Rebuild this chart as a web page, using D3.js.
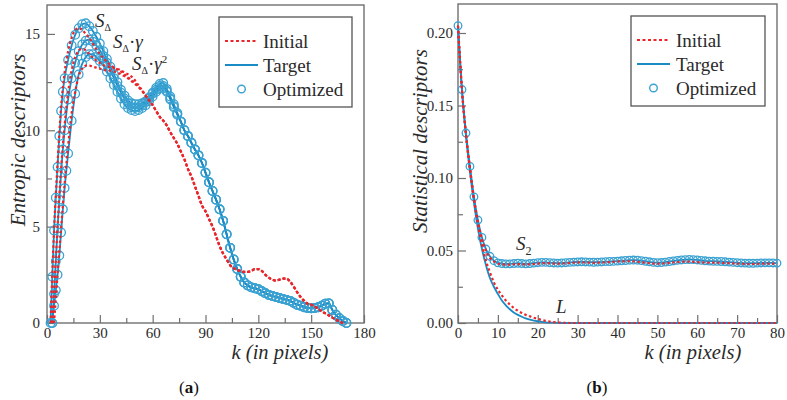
<!DOCTYPE html>
<html><head><meta charset="utf-8">
<script src="https://cdn.jsdelivr.net/npm/d3@7"></script>
<style>body{margin:0;background:#fff} svg text{font-family:"Liberation Serif","Tinos","Times New Roman",serif}</style>
</head><body><svg id="c" width="787" height="400"></svg>
<script>
// ---------- Panel (a): entropic descriptors ----------
const kHeadDelta = [2,3,4,5,6,7,8,9,10,12,14,16,18,20,22,24,26,28,30,32,34,36,38,40,42,44,46,48,50,52,54,56,58,60,62,64,66,68,70,72,74];
const targetDelta = [0,2.4,4.8,6.5,8.1,9.7,11.0,12.0,12.7,13.65,14.4,14.95,15.3,15.5,15.55,15.4,15.15,14.85,14.5,14.1,13.7,13.3,12.9,12.5,12.1,11.8,11.55,11.4,11.35,11.35,11.4,11.5,11.7,11.95,12.2,12.4,12.45,12.15,11.75,11.35,10.9];
const kHeadGamma = [3,4,5,6,7,8,9,10,12,14,16,18,20,22,24,26,28,30,32,34,36,38,40,42,44,46,48,50,52,54,56,58,60,62,64,66,68,70,72,74];
const targetGamma = [0,1.5,3.2,4.9,6.4,7.8,9.0,10.0,11.6,12.7,13.5,14.1,14.45,14.65,14.7,14.6,14.4,14.15,13.85,13.5,13.1,12.7,12.3,11.95,11.65,11.4,11.2,11.15,11.2,11.3,11.45,11.65,11.9,12.1,12.3,12.3,12.05,11.65,11.25,10.85];
const kHeadGamma2 = [3,4,5,6,7,8,9,10,11,12,14,16,18,20,22,24,26,28,30,32,34,36,38,40,42,44,46,48,50,52,54,56,58,60,62,64,66,68,70,72,74];
const targetGamma2 = [0,0.9,1.7,2.5,3.5,4.7,5.9,7.0,7.9,8.8,10.5,11.9,12.9,13.45,13.8,13.95,13.95,13.8,13.6,13.35,13.05,12.7,12.35,12.0,11.65,11.35,11.15,11.05,11.0,11.05,11.15,11.3,11.5,11.75,12.0,12.15,12.2,12.0,11.6,11.2,10.8];
const kTail = [76,78,80,82,84,86,88,90,92,94,96,98,100,102,104,106,108,110,112,114,116,118,120,122,124,126,128,130,132,134,136,138,140,142,144,146,148,150,152,154,156,158,160,162,164,166,168,170];
const targetTail = [10.45,10.0,9.7,9.35,9.0,8.7,8.3,7.8,7.3,6.85,6.4,5.9,5.3,4.6,3.9,3.3,2.8,2.4,2.1,1.95,1.85,1.8,1.75,1.65,1.55,1.45,1.4,1.35,1.3,1.25,1.2,1.15,1.05,0.95,0.9,0.82,0.78,0.76,0.78,0.82,0.9,1.0,1.02,0.68,0.43,0.25,0.1,0.0];

const kInitDelta = [2,4,6,8,10,12,14,16,18,20,22,24,26,28,30,32,34,36,38,40,42,44,46,48,50,52,54];
const initDelta = [0,4.8,8.3,11.2,13.0,14.1,14.8,15.2,15.3,15.2,15.0,14.8,14.5,14.2,13.95,13.75,13.55,13.4,13.25,13.15,13.05,12.9,12.75,12.6,12.45,12.25,12.05];
const kInitGamma = [3,5,7,9,11,13,15,17,19,21,23,25,27,29,31,33,35,37,39,41,43,45,47,49,51,53];
const initGamma = [0,3.3,6.6,9.2,11.2,12.6,13.5,14.0,14.2,14.2,14.05,13.85,13.7,13.55,13.45,13.35,13.3,13.25,13.2,13.15,13.05,12.95,12.85,12.7,12.45,12.2];
const kInitGamma2 = [4,6,8,10,12,14,16,18,20,22,24,26,28,30,32,34,36,38,40,42,44,46,48,50,52,54];
const initGamma2 = [0,2.5,4.9,7.2,9.2,10.9,12.0,12.8,13.2,13.35,13.35,13.3,13.25,13.2,13.15,13.1,13.1,13.05,13.0,12.9,12.8,12.7,12.55,12.4,12.25,12.05];
const kInitTail = [56,58,60,62,64,66,68,70,72,74,76,78,80,82,84,86,88,90,92,94,96,98,100,102,104,106,108,110,112,114,116,118,120,122,124,126,128,130,132,134,136,138,140,142,144,146,148,150,152,154,156,158,160,162,164,166,168];
const initTail = [11.8,11.55,11.3,11.0,10.7,10.5,10.25,9.9,9.6,9.3,8.9,8.5,8.0,7.6,7.1,6.6,6.1,5.8,5.4,5.0,4.5,4.0,3.6,3.3,3.0,2.85,2.75,2.7,2.65,2.65,2.7,2.8,2.8,2.7,2.5,2.35,2.25,2.2,2.25,2.3,2.3,2.15,1.9,1.6,1.35,1.15,1.0,0.95,0.85,0.75,0.6,0.5,0.4,0.28,0.18,0.08,0.0];

const xTicksA = [0,30,60,90,120,150,180];
const yTicksA = [0,5,10,15];

// ---------- Panel (b): statistical descriptors ----------
const kB = [0,1,2,3,4,5,6,7,8,9,10,11,12,13,14,15,16,17,18,19,20,21,22,23,24,25,26,27,28,29,30,31,32,33,34,35,36,37,38,39,40,41,42,43,44,45,46,47,48,49,50,51,52,53,54,55,56,57,58,59,60,61,62,63,64,65,66,67,68,69,70,71,72,73,74,75,76,77,78,79,80];
const targetS2 = [0.205,0.161,0.131,0.108,0.087,0.071,0.059,0.051,0.046,0.043,
 0.0415,0.041,0.0408,0.0408,0.041,0.0412,0.041,0.0408,0.041,0.0413,
 0.0416,0.0418,0.0418,0.0416,0.0414,0.0413,0.0414,0.0416,0.0418,0.042,
 0.0421,0.0422,0.0421,0.042,0.0419,0.042,0.0421,0.0423,0.0424,0.0425,
 0.0427,0.0429,0.0431,0.0433,0.0434,0.0433,0.043,0.0426,0.0422,0.0418,
 0.0416,0.0417,0.042,0.0424,0.0428,0.0432,0.0435,0.0437,0.0438,0.0437,
 0.0435,0.0432,0.0429,0.0427,0.0426,0.0425,0.0424,0.0422,0.042,0.0418,
 0.0416,0.0414,0.0413,0.0412,0.0412,0.0413,0.0414,0.0415,0.0415,0.0414,0.0413];
const initS2 = [0.205,0.160,0.130,0.107,0.086,0.070,0.058,0.050,0.045,0.0425,
 0.041,0.0405,0.0403,0.0403,0.0405,0.0406,0.0405,0.0404,0.0405,0.0407,
 0.041,0.0412,0.0413,0.0412,0.041,0.0409,0.041,0.0412,0.0414,0.0416,
 0.0417,0.0418,0.0417,0.0416,0.0415,0.0416,0.0417,0.0418,0.042,0.0422,
 0.0424,0.0425,0.0426,0.0426,0.0425,0.0422,0.0419,0.0416,0.0413,0.041,
 0.0409,0.041,0.0412,0.0415,0.0418,0.042,0.0422,0.0423,0.0423,0.0422,
 0.042,0.0418,0.0417,0.0416,0.0416,0.0416,0.0415,0.0414,0.0413,0.0411,
 0.041,0.0409,0.0408,0.0407,0.0407,0.0408,0.0409,0.041,0.041,0.0409,0.0408];
const kL = [0,1,2,3,4,5,6,7,8,9,10,11,12,13,14,15,16,17,18,19,20,21,22,23,24,25,26,27,28,30,40,50,60,70,80];
const targetL = [0.205,0.160,0.129,0.104,0.083,0.065,0.051,0.040,0.031,0.025,0.020,0.0155,0.0122,0.0095,0.0073,0.0056,0.0043,0.0032,0.0024,0.0017,0.0012,0.0008,0.0005,0.0003,0.0002,0.0001,0,0,0,0,0,0,0,0,0];
const initL = [0.205,0.161,0.130,0.106,0.085,0.068,0.054,0.043,0.035,0.028,0.023,0.019,0.0155,0.0127,0.0103,0.0085,0.0069,0.0056,0.0046,0.0036,0.0028,0.0021,0.0015,0.001,0.0006,0.0004,0.0002,0.0001,0,0,0,0,0,0,0];

const xTicksB = [0,10,20,30,40,50,60,70,80];
const yTicksB = [0,0.05,0.10,0.15,0.20];

const legendLabels = ["Initial","Target","Optimized"];

// ---------- drawing ----------
const svg = d3.select("#c");
const BLUE="#1b8bc6", CIRC="#3aa2d2", RED="#e8262b", AX="#707070", TXT="#2a2a2a";

function zip(ks, vs){ return ks.map((k,i)=>[k, vs[i]]); }

function drawPanel(o){
  const g = svg.append("g");
  const x = d3.scaleLinear().domain(o.xd).range(o.xr);
  const y = d3.scaleLinear().domain(o.yd).range(o.yr);
  const styleAxis = s=>{s.attr("font-family",null); s.select(".domain").remove();
    s.selectAll("line").attr("stroke",AX).attr("stroke-width",1.2);
    s.selectAll("text").attr("font-size",15).attr("fill",TXT);};
  g.append("g").attr("transform",`translate(0,${o.yr[0]})`)
    .call(d3.axisBottom(x).tickValues(o.xMinor).tickSize(-5).tickFormat("")).call(styleAxis);
  g.append("g").attr("transform",`translate(${o.xr[0]},0)`)
    .call(d3.axisLeft(y).tickValues(o.yMinor).tickSize(-5).tickFormat("")).call(styleAxis);
  g.append("g").attr("transform",`translate(0,${o.yr[0]})`)
    .call(d3.axisBottom(x).tickValues(o.xTicks).tickSize(-8).tickPadding(4).tickFormat(d3.format("d"))).call(styleAxis);
  g.append("g").attr("transform",`translate(${o.xr[0]},0)`)
    .call(d3.axisLeft(y).tickValues(o.yTicks).tickSize(-8).tickPadding(o.yPad).tickFormat(o.yFmt)).call(styleAxis);
  g.append("rect").attr("x",o.xr[0]).attr("y",o.yr[1]).attr("width",o.xr[1]-o.xr[0]).attr("height",o.yr[0]-o.yr[1])
    .attr("fill","none").attr("stroke",AX).attr("stroke-width",1.4);
  const line = d3.line().x(d=>x(d[0])).y(d=>y(d[1])).curve(d3.curveMonotoneX);
  o.targets.forEach(t=>{
    g.append("path").attr("d",line(t)).attr("fill","none").attr("stroke",BLUE).attr("stroke-width",1.8);
  });
  o.markers.forEach(t=>{
    g.append("g").selectAll("circle").data(t).join("circle")
      .attr("cx",d=>x(d[0])).attr("cy",d=>y(d[1])).attr("r",o.r)
      .attr("fill","none").attr("stroke",CIRC).attr("stroke-width",1.3);
  });
  o.inits.forEach(t=>{
    g.append("path").attr("d",line(t)).attr("fill","none").attr("stroke",RED).attr("stroke-width",2.2)
      .attr("stroke-dasharray","2.5,2.5");
  });
  return {x,y,g};
}

const curveDelta = zip(kHeadDelta,targetDelta).concat(zip(kTail,targetTail));
const curveGamma = zip(kHeadGamma,targetGamma).concat(zip(kTail,targetTail));
const curveGamma2 = zip(kHeadGamma2,targetGamma2).concat(zip(kTail,targetTail));
const curveInitDelta = zip(kInitDelta,initDelta).concat(zip(kInitTail,initTail));
const curveInitGamma = zip(kInitGamma,initGamma).concat(zip(kInitTail,initTail));
const curveInitGamma2 = zip(kInitGamma2,initGamma2).concat(zip(kInitTail,initTail));

drawPanel({
  xd:[0,180], xr:[47,364], yd:[0,16.5], yr:[323,5],
  xTicks:xTicksA, xMinor:[15,45,75,105,135,165], yTicks:yTicksA, yMinor:[2.5,7.5,12.5],
  yPad:7, yFmt:d3.format("d"), r:4.3,
  targets:[curveDelta,curveGamma,curveGamma2],
  markers:[curveDelta,curveGamma,curveGamma2],
  inits:[curveInitDelta,curveInitGamma,curveInitGamma2]
});

drawPanel({
  xd:[0,80], xr:[458,777], yd:[0,0.22], yr:[323,4],
  xTicks:xTicksB, xMinor:[5,15,25,35,45,55,65,75], yTicks:yTicksB, yMinor:[0.025,0.075,0.125,0.175],
  yPad:5, yFmt:d3.format(".2f"), r:3.8,
  targets:[zip(kL,targetL), zip(kB,targetS2)],
  markers:[zip(kB,targetS2)],
  inits:[zip(kL,initL), zip(kB,initS2)]
});

// axis titles
function ital(x,y,t,rot,fs){
  const e = svg.append("text").attr("x",x).attr("y",y).attr("font-size",fs).attr("font-style","italic")
    .attr("fill",TXT).attr("text-anchor","middle").text(t);
  if(rot) e.attr("transform",`rotate(-90,${x},${y})`);
}
ital(25,140,"Entropic descriptors",true,21);
ital(427,141,"Statistical descriptors",true,21);
ital(280,359,"k (in pixels)",false,20.5);
ital(693,359,"k (in pixels)",false,20.5);

// panel captions
function caption(x,l){
  const t = svg.append("text").attr("x",x).attr("y",393).attr("font-size",17).attr("fill","#111").attr("text-anchor","middle");
  t.append("tspan").text("(");
  t.append("tspan").attr("font-weight","bold").text(l);
  t.append("tspan").text(")");
}
caption(189,"a"); caption(597,"b");

// curve annotations
function ann(x,y,parts){
  const t = svg.append("text").attr("x",x).attr("y",y).attr("font-size",19).attr("fill",TXT);
  parts.forEach(p=>{
    const s = t.append("tspan").text(p.t);
    if(p.i) s.attr("font-style","italic");
    if(p.fs) s.attr("font-size",p.fs);
    if(p.dy) s.attr("dy",p.dy);
  });
}
ann(95,27,[{t:"S",i:1},{t:"Δ",fs:10,dy:4}]);
ann(113,48,[{t:"S",i:1},{t:"Δ",fs:10,dy:4},{t:"·",dy:-4},{t:"γ",i:1}]);
ann(132,70,[{t:"S",i:1},{t:"Δ",fs:10,dy:4},{t:"·",dy:-4},{t:"γ",i:1},{t:"2",fs:11,dy:-7}]);
ann(516,250,[{t:"S",i:1},{t:"2",fs:12,dy:5}]);
ann(556,313,[{t:"L",i:1}]);

// legends
function legend(x0,y0,w,h,lx0,lx1,tx){
  const g = svg.append("g");
  g.append("rect").attr("x",x0).attr("y",y0).attr("width",w).attr("height",h)
    .attr("fill","#fff").attr("stroke","#555").attr("stroke-width",1.3);
  const rows = [y0+24,y0+48,y0+72];
  g.append("line").attr("x1",lx0).attr("x2",lx1).attr("y1",rows[0]).attr("y2",rows[0])
    .attr("stroke",RED).attr("stroke-width",2).attr("stroke-dasharray","3,2.5");
  g.append("line").attr("x1",lx0).attr("x2",lx1).attr("y1",rows[1]).attr("y2",rows[1])
    .attr("stroke",BLUE).attr("stroke-width",1.8);
  g.append("circle").attr("cx",(lx0+lx1)/2).attr("cy",rows[2]).attr("r",3.8)
    .attr("fill","none").attr("stroke",CIRC).attr("stroke-width",1.4);
  legendLabels.forEach((l,i)=>{
    g.append("text").attr("x",tx).attr("y",rows[i]).attr("dy","0.35em").attr("font-size",19)
      .attr("fill",TXT).text(l);
  });
}
legend(219,17,133,90,225,258,263);
legend(631,16,134,90,637,670,676);
</script></body></html>
